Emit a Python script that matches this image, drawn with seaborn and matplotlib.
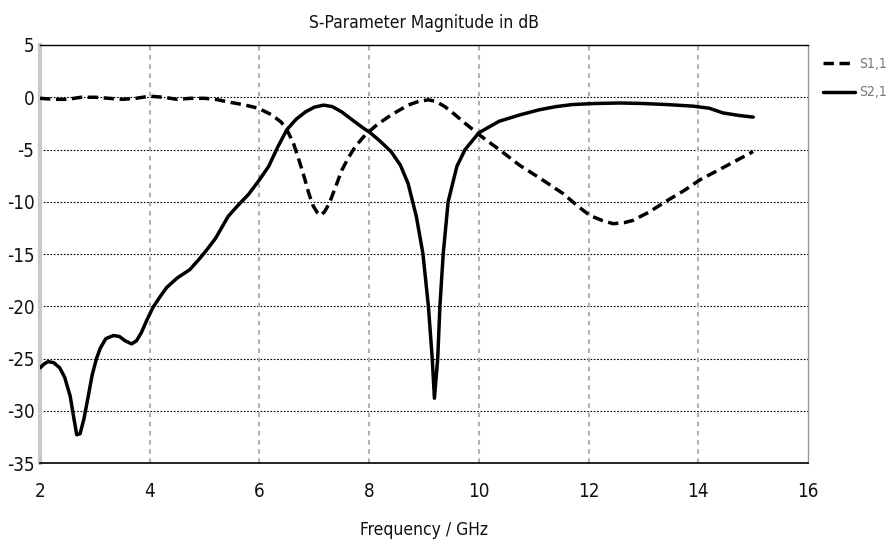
import matplotlib
matplotlib.use("Agg")
import matplotlib.pyplot as plt
import seaborn as sns
import pandas as pd
from matplotlib.lines import Line2D

# S1,1 reflection magnitude (dB) vs frequency (GHz)
s11_freq = [2.0, 2.25, 2.5, 2.75, 3.0, 3.25, 3.5, 3.75, 4.0, 4.25, 4.5, 4.75, 5.0,
            5.2, 5.43, 5.7, 5.98, 6.23, 6.4, 6.5, 6.62, 6.72, 6.82, 6.9, 6.98,
            7.05, 7.11, 7.18, 7.27, 7.38, 7.5, 7.62, 7.75, 7.93, 8.15, 8.4,
            8.71, 8.9, 9.08, 9.22, 9.38, 9.55, 9.75, 10.06, 10.37, 10.74, 11.1,
            11.53, 11.8, 12.02, 12.25, 12.45, 12.65, 12.8, 13.1, 13.43, 13.75,
            14.03, 14.5, 15.0]
s11_db = [-0.1, -0.2, -0.2, 0.0, 0.0, -0.1, -0.2, -0.1, 0.1, 0.0, -0.2, -0.1, -0.1,
          -0.2, -0.45, -0.7, -1.05, -1.7, -2.4, -3.1, -4.4, -6.0, -7.7, -9.2, -10.4,
          -11.0, -11.3, -11.0, -10.2, -8.7, -7.0, -5.8, -4.7, -3.6, -2.6, -1.7,
          -0.75, -0.4, -0.25, -0.4, -0.9, -1.6, -2.5, -3.8, -5.0, -6.5, -7.7,
          -9.2, -10.4, -11.3, -11.8, -12.1, -12.0, -11.8, -11.0, -9.9, -8.9,
          -7.9, -6.6, -5.2]

# S2,1 transmission magnitude (dB) vs frequency (GHz)
s21_freq = [2.0, 2.08, 2.15, 2.25, 2.36, 2.45, 2.55, 2.62, 2.67, 2.73, 2.8, 2.88,
            2.95, 3.03, 3.1, 3.2, 3.34, 3.45, 3.55, 3.67, 3.76, 3.85, 3.95, 4.06,
            4.2, 4.31, 4.5, 4.73, 4.9, 5.04, 5.2, 5.43, 5.6, 5.8, 6.0, 6.17, 6.33,
            6.5, 6.67, 6.84, 7.0, 7.17, 7.33, 7.5, 7.7, 7.88, 8.02, 8.2, 8.4, 8.57,
            8.71, 8.86, 8.98, 9.08, 9.15, 9.19, 9.25, 9.29, 9.35, 9.44, 9.6, 9.75,
            10.0, 10.37, 10.74, 11.1, 11.4, 11.7, 12.1, 12.57, 13.0, 13.43, 13.9,
            14.2, 14.45, 14.75, 15.0]
s21_db = [-25.9, -25.5, -25.3, -25.4, -25.9, -26.8, -28.6, -30.8, -32.3, -32.2,
          -30.8, -28.6, -26.6, -25.0, -24.0, -23.1, -22.8, -22.9, -23.3, -23.6,
          -23.3, -22.5, -21.3, -20.1, -19.0, -18.2, -17.3, -16.5, -15.5, -14.6,
          -13.5, -11.4, -10.4, -9.3, -7.9, -6.6, -4.8, -3.1, -2.1, -1.4, -0.95,
          -0.75, -0.9, -1.4, -2.2, -2.9, -3.4, -4.2, -5.2, -6.5, -8.25, -11.4,
          -14.95, -20.0, -25.0, -28.8, -25.0, -20.0, -15.0, -10.0, -6.6, -5.0,
          -3.4, -2.3, -1.7, -1.2, -0.9, -0.7, -0.6, -0.55, -0.6, -0.7, -0.85,
          -1.05, -1.5, -1.75, -1.9]

x_ticks = [2, 4, 6, 8, 10, 12, 14, 16]
y_ticks = [5, 0, -5, -10, -15, -20, -25, -30, -35]

df11 = pd.DataFrame({"freq": s11_freq, "db": s11_db})
df21 = pd.DataFrame({"freq": s21_freq, "db": s21_db})

sns.set_theme(style="white")
plt.rcParams["font.family"] = ["DejaVu Sans"]
plt.rcParams["font.stretch"] = "condensed"
plt.rcParams["axes.unicode_minus"] = False

fig = plt.figure(figsize=(8.86, 5.46), dpi=100)
ax = fig.add_axes([40 / 886, 1 - 463 / 546, 768 / 886, 418 / 546])

lw = 2.5
dash = (0, (3.0, 1.6))
sns.lineplot(data=df11, x="freq", y="db", ax=ax, color="black", linewidth=lw,
             linestyle=dash, sort=False, estimator=None, zorder=3)
sns.lineplot(data=df21, x="freq", y="db", ax=ax, color="black", linewidth=lw,
             sort=False, estimator=None, zorder=3)

ax.set_xlim(2, 16)
ax.set_ylim(-35, 5)
ax.set_xticks(x_ticks)
ax.set_yticks(y_ticks)
ax.tick_params(axis="both", length=0, labelsize=13.5, colors="#111111")
ax.tick_params(axis="x", pad=14)
ax.tick_params(axis="y", pad=4)

# Grid: black dotted rows, grey dashed columns
for y in y_ticks[1:-1]:
    ax.axhline(y, color="black", linewidth=0.8, linestyle=(0, (1.5, 1.5)), zorder=1)
for x in x_ticks[1:-1]:
    ax.axvline(x, color="#b0b0b0", linewidth=1.5, linestyle=(0, (2.2, 2.2)), zorder=1)

ax.spines["top"].set_color("black")
ax.spines["top"].set_linewidth(1.0)
ax.spines["bottom"].set_color("black")
ax.spines["bottom"].set_linewidth(1.2)
ax.spines["left"].set_color("#c8c8c8")
ax.spines["left"].set_linewidth(3.0)
ax.spines["right"].set_color("#9a9a9a")
ax.spines["right"].set_linewidth(1.0)

ax.set_title("S-Parameter Magnitude in dB", fontsize=12.5, pad=12, color="#111111")
ax.set_xlabel("Frequency / GHz", fontsize=12.5, labelpad=14, color="#111111")
ax.set_ylabel("")

handles = [Line2D([0], [0], color="black", linewidth=lw, linestyle=dash),
           Line2D([0], [0], color="black", linewidth=lw)]
leg = ax.legend(handles, ["S1,1", "S2,1"], loc="upper left",
                bbox_to_anchor=(1.012, 0.985), frameon=False, fontsize=10,
                handlelength=2.3, handletextpad=0.3, labelspacing=1.05,
                borderaxespad=0.0)
for t in leg.get_texts():
    t.set_color("#777777")

fig.savefig("out.png", dpi=100)
